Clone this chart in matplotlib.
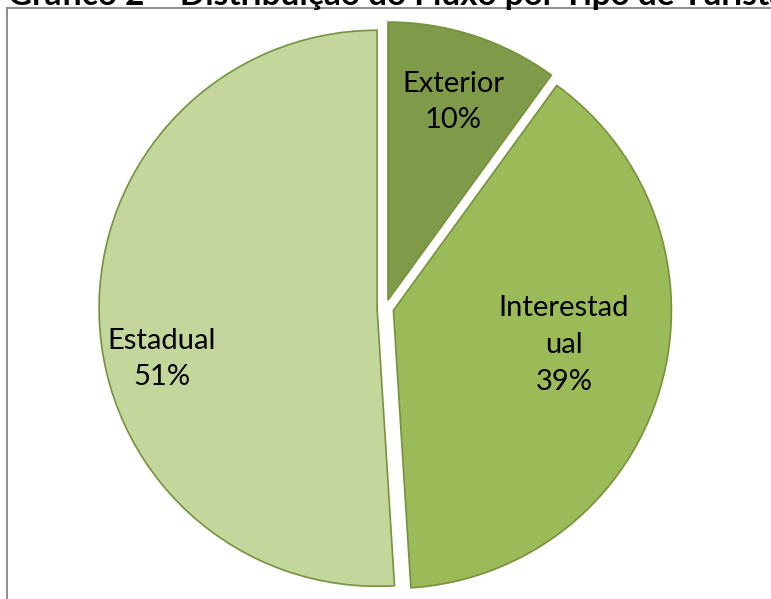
import matplotlib
matplotlib.use("Agg")
import matplotlib.pyplot as plt
from matplotlib.lines import Line2D

# dados do gráfico
categorias = ["Exterior", "Interestadual", "Estadual"]
rotulos = ["Exterior", "Interestad\nual", "Estadual"]
percentuais = [10, 39, 51]
cores = ["#7F9A48", "#9BBB59", "#C3D69B"]
titulo = "Gráfico 2 – Distribuição do Fluxo por Tipo de Turista"

W, H = 771, 599
fig = plt.figure(figsize=(W / 100, H / 100), dpi=100)
ax = fig.add_axes([0, 0, 1, 1])

# centro e raio da pizza em pixels
cx, cy, r = 385.4, 308.0, 278.0

ax.pie(percentuais, colors=cores, startangle=90, counterclock=False,
       explode=[0.03] * len(percentuais),
       wedgeprops=dict(edgecolor="#76923C", linewidth=1.2))
ax.set_aspect("auto")
ax.set_xlim(-cx / r, (W - cx) / r)
ax.set_ylim(-(H - cy) / r, cy / r)
ax.axis("off")

# posições dos rótulos (pixels)
pos = [(453, 102), (564, 345), (162, 359)]
for rot, p, (px, py) in zip(rotulos, percentuais, pos):
    ax.text(px / W, 1 - py / H, f"{rot}\n{p}%", transform=ax.transAxes,
            ha="center", va="center", fontsize=21, family="Lato",
            linespacing=1.5, color="black")

# moldura
fig.add_artist(Line2D([7 / W, 7 / W], [0, 1 - 8 / H], color="#868686", lw=1.3))
fig.add_artist(Line2D([7 / W, 1], [1 - 8 / H, 1 - 8 / H], color="#868686", lw=1.3))

# título (cortado no topo)
t = fig.text(8 / W, 1 - 5 / H, titulo, ha="left", va="baseline",
             fontsize=20, fontweight="bold", family="Lato")
fig.canvas.draw()
larg = t.get_window_extent().width
t.set_fontsize(20 * 778 / larg)

fig.savefig("out.png", dpi=100)
